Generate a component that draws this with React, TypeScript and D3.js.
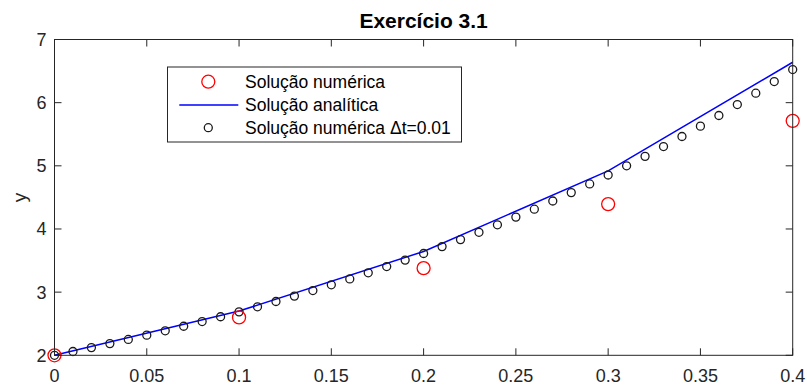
import React from "react";
import * as d3 from "d3";

const tCoarse = [0, 0.1, 0.2, 0.3, 0.4];
const yNumeric = [2.0, 2.6, 3.38, 4.394, 5.712];
const yAnalytic = [2.0, 2.7, 3.644, 4.919, 6.64];
const tFine = [
  0, 0.01, 0.02, 0.03, 0.04, 0.05, 0.06, 0.07, 0.08, 0.09, 0.1, 0.11, 0.12, 0.13,
  0.14, 0.15, 0.16, 0.17, 0.18, 0.19, 0.2, 0.21, 0.22, 0.23, 0.24, 0.25, 0.26,
  0.27, 0.28, 0.29, 0.3, 0.31, 0.32, 0.33, 0.34, 0.35, 0.36, 0.37, 0.38, 0.39, 0.4,
];
const yFine = [
  2.0, 2.06, 2.122, 2.185, 2.251, 2.319, 2.388, 2.46, 2.534, 2.61, 2.688, 2.768,
  2.852, 2.937, 3.025, 3.116, 3.209, 3.306, 3.405, 3.507, 3.612, 3.721, 3.832,
  3.947, 4.066, 4.188, 4.313, 4.443, 4.576, 4.713, 4.855, 5.0, 5.15, 5.305, 5.464,
  5.628, 5.797, 5.97, 6.15, 6.334, 6.524,
];
const xTicks = [0, 0.05, 0.1, 0.15, 0.2, 0.25, 0.3, 0.35, 0.4];
const xTickLabels = ["0", "0.05", "0.1", "0.15", "0.2", "0.25", "0.3", "0.35", "0.4"];
const yTicks = [2, 3, 4, 5, 6, 7];
const legendLabels = ["Solução numérica", "Solução analítica", "Solução numérica Δt=0.01"];

export default function App() {
  const W = 807;
  const H = 385;
  const left = 54.5, right = 792.7, top = 39.5, bottom = 355.3;
  const x = d3.scaleLinear().domain([0, 0.4]).range([left, right]);
  const y = d3.scaleLinear().domain([2, 7]).range([bottom, top]);
  const axisColor = "#262626";
  const font = "Arial, 'Liberation Sans', Helvetica, sans-serif";
  const line = d3
    .line<number>()
    .x((_, i) => x(tCoarse[i]))
    .y((d) => y(d));
  const tick = 7;

  return (
    <svg
      width={W}
      height={H}
      style={{ position: "absolute", left: 0, top: 0, background: "#fff" }}
    >
      <rect x={0} y={0} width={W} height={H} fill="#fff" />
      <defs>
        <clipPath id="plot">
          <rect x={left - 8} y={top - 8} width={right - left + 16} height={bottom - top + 16} />
        </clipPath>
      </defs>
      {xTicks.map((t, i) => (
        <g key={"xt" + i}>
          <line x1={x(t)} x2={x(t)} y1={bottom} y2={bottom - tick} stroke={axisColor} strokeWidth={1} />
          <line x1={x(t)} x2={x(t)} y1={top} y2={top + tick} stroke={axisColor} strokeWidth={1} />
          <text
            x={x(t)}
            y={382}
            textAnchor="middle"
            fontFamily={font}
            fontSize={18}
            fill={axisColor}
          >
            {xTickLabels[i]}
          </text>
        </g>
      ))}
      {yTicks.map((v, i) => (
        <g key={"yt" + i}>
          <line x1={left} x2={left + tick} y1={y(v)} y2={y(v)} stroke={axisColor} strokeWidth={1} />
          <line x1={right} x2={right - tick} y1={y(v)} y2={y(v)} stroke={axisColor} strokeWidth={1} />
          <text
            x={left - 8}
            y={y(v) + 6.5}
            textAnchor="end"
            fontFamily={font}
            fontSize={18}
            fill={axisColor}
          >
            {v}
          </text>
        </g>
      ))}
      <g clipPath="url(#plot)">
        <path d={line(yAnalytic) || ""} fill="none" stroke="#0000ff" strokeWidth={1.5} />
        {yFine.map((v, i) => (
          <circle key={"f" + i} cx={x(tFine[i])} cy={y(v)} r={4} fill="none" stroke="#1a1a1a" strokeWidth={1.3} />
        ))}
        {yNumeric.map((v, i) => (
          <circle key={"n" + i} cx={x(tCoarse[i])} cy={y(v)} r={6.5} fill="none" stroke="#ff0000" strokeWidth={1.3} />
        ))}
      </g>
      <rect
        x={left}
        y={top}
        width={right - left}
        height={bottom - top}
        fill="none"
        stroke={axisColor}
        strokeWidth={1}
      />
      <text
        x={(left + right) / 2}
        y={28}
        textAnchor="middle"
        fontFamily={font}
        fontSize={21}
        fontWeight="bold"
        fill="#000"
      >
        Exercício 3.1
      </text>
      <text
        transform={`translate(26,${(top + bottom) / 2}) rotate(-90)`}
        textAnchor="middle"
        fontFamily={font}
        fontSize={19}
        fill={axisColor}
      >
        y
      </text>
      <g>
        <rect x={167.5} y={67} width={294} height={75} fill="#fff" stroke={axisColor} strokeWidth={1} />
        <circle cx={208.3} cy={81.7} r={6.5} fill="none" stroke="#ff0000" strokeWidth={1.3} />
        <line x1={179.3} x2={238.3} y1={105} y2={105} stroke="#0000ff" strokeWidth={1.5} />
        <circle cx={208.3} cy={127.7} r={4} fill="none" stroke="#1a1a1a" strokeWidth={1.3} />
        {legendLabels.map((s, i) => (
          <text
            key={"l" + i}
            x={245}
            y={87.5 + i * 23}
            fontFamily={font}
            fontSize={17.5}
            fill="#000"
          >
            {s}
          </text>
        ))}
      </g>
    </svg>
  );
}
